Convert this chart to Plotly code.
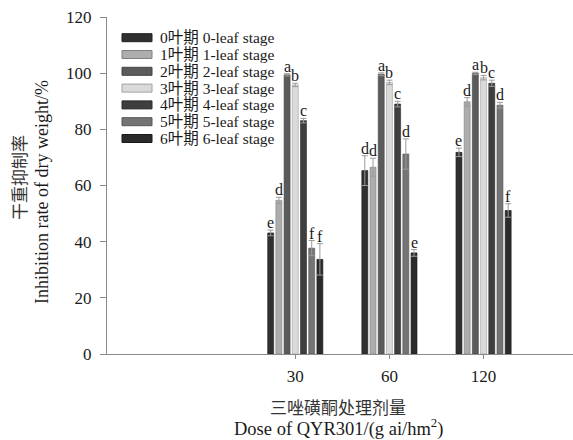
import plotly.graph_objects as go

doses = ["30", "60", "120"]
stages = ["0叶期 0-leaf stage", "1叶期 1-leaf stage", "2叶期 2-leaf stage",
          "3叶期 3-leaf stage", "4叶期 4-leaf stage", "5叶期 5-leaf stage",
          "6叶期 6-leaf stage"]

stage0 = [43.1, 65.3, 71.8]
stage1 = [54.7, 66.5, 89.8]
stage2 = [99.4, 99.6, 99.9]
stage3 = [95.8, 96.7, 98.4]
stage4 = [83.1, 89.0, 96.4]
stage5 = [37.7, 71.2, 88.6]
stage6 = [33.7, 36.0, 51.1]
values = [stage0, stage1, stage2, stage3, stage4, stage5, stage6]

err0 = [1.0, 5.3, 1.5]
err1 = [1.1, 3.2, 1.5]
err2 = [0.4, 0.5, 0.4]
err3 = [0.6, 0.8, 0.8]
err4 = [0.8, 1.0, 1.1]
err5 = [2.7, 5.4, 1.0]
err6 = [5.6, 1.2, 2.4]
errors = [err0, err1, err2, err3, err4, err5, err6]

letters0 = ["e", "d", "e"]
letters1 = ["d", "d", "d"]
letters2 = ["a", "a", "a"]
letters3 = ["b", "b", "b"]
letters4 = ["c", "c", "c"]
letters5 = ["f", "d", "d"]
letters6 = ["f", "e", "f"]
letters = [letters0, letters1, letters2, letters3, letters4, letters5, letters6]

y_ticks = [0, 20, 40, 60, 80, 100, 120]

colors = ['#303030', '#adadad', '#5b5b5b', '#dadada', '#3e3e3e', '#747474', '#2b2b2b']
edges = ['#1e1e1e', '#808080', '#444444', '#a0a0a0', '#2a2a2a', '#555555', '#1a1a1a']

FONT = "Liberation Serif, Noto Sans CJK SC, serif"
TXT = '#1a1a1a'

W, H = 573, 440
ML, MR, MT, MB = 107, 0, 17, 86
PW = W - ML - MR
PH = H - MT - MB

BARGAP = 0.39
GROUPGAP = 0.27
n = len(stages)
xpos = list(range(len(doses)))

fig = go.Figure()
for i in range(n):
    fig.add_trace(go.Bar(
        x=xpos, y=values[i], name=stages[i],
        marker=dict(color=colors[i], line=dict(color=edges[i], width=0.6)),
        error_y=dict(type='data', array=errors[i], color='#9a9a9a',
                     thickness=1, width=3),
        showlegend=False,
    ))

# significance letters
slot = (1 - BARGAP) / n
annotations = []
for i in range(n):
    off = -(1 - BARGAP) / 2 + slot * (i + 0.5)
    for j in range(len(doses)):
        annotations.append(dict(
            x=xpos[j] + off, y=values[i][j] + errors[i][j], xref='x', yref='y',
            text=letters[i][j], showarrow=False, yanchor='bottom', yshift=-3,
            font=dict(family=FONT, size=16, color=TXT)))

def px2x(px):
    return (px - ML) / PW

def py2y(py):
    return (MT + PH - py) / PH

# custom legend
shapes = []
for i in range(n):
    cy = 37.7 + 16.8 * i
    shapes.append(dict(type='rect', xref='paper', yref='paper',
                       x0=px2x(122), x1=px2x(152), y0=py2y(cy + 4), y1=py2y(cy - 4),
                       fillcolor=colors[i], line=dict(color=edges[i], width=1)))
    annotations.append(dict(x=px2x(158), y=py2y(cy), xref='paper', yref='paper',
                            text=stages[i], showarrow=False, xanchor='left',
                            yanchor='middle',
                            font=dict(family=FONT, size=15.5, color=TXT)))

# axis titles
annotations.append(dict(x=0, y=py2y(178), xref='paper', yref='paper', xshift=-86,
                        xanchor='center', yanchor='middle',
                        text='干重抑制率', textangle=-90, showarrow=False,
                        font=dict(family=FONT, size=17, color='#333')))
annotations.append(dict(x=0, y=py2y(192), xref='paper', yref='paper', xshift=-65,
                        xanchor='center', yanchor='middle',
                        text='Inhibition rate of dry weight/%', textangle=-90,
                        showarrow=False, font=dict(family=FONT, size=18, color=TXT)))
annotations.append(dict(x=px2x(338), y=py2y(408), xref='paper', yref='paper',
                        xanchor='center', yanchor='middle',
                        text='三唑磺酮处理剂量', showarrow=False,
                        font=dict(family=FONT, size=17, color='#333')))
annotations.append(dict(x=px2x(338), y=py2y(427), xref='paper', yref='paper',
                        xanchor='center', yanchor='middle',
                        text='Dose of QYR301/(g ai/hm<sup>2</sup>)', showarrow=False,
                        font=dict(family=FONT, size=18.5, color=TXT)))

fig.update_layout(
    width=W, height=H,
    margin=dict(l=ML, r=MR, t=MT, b=MB),
    paper_bgcolor='white', plot_bgcolor='white',
    barmode='group', bargap=BARGAP, bargroupgap=GROUPGAP,
    shapes=shapes, annotations=annotations,
    font=dict(family=FONT, size=17, color=TXT),
    xaxis=dict(range=[-2, 2.95], tickvals=xpos, ticktext=doses,
               showline=True, linecolor='#8a8a8a', linewidth=1,
               ticks='outside', ticklen=4, tickcolor='#8a8a8a',
               showgrid=False, zeroline=False, ticklabelstandoff=3,
               tickfont=dict(family=FONT, size=17, color=TXT)),
    yaxis=dict(range=[0, 120], tickvals=y_ticks,
               showline=True, linecolor='#8a8a8a', linewidth=1,
               ticks='outside', ticklen=6, tickcolor='#8a8a8a',
               showgrid=False, zeroline=False, ticklabelstandoff=5,
               tickfont=dict(family=FONT, size=17, color=TXT)),
)

fig.write_html("out.html")
